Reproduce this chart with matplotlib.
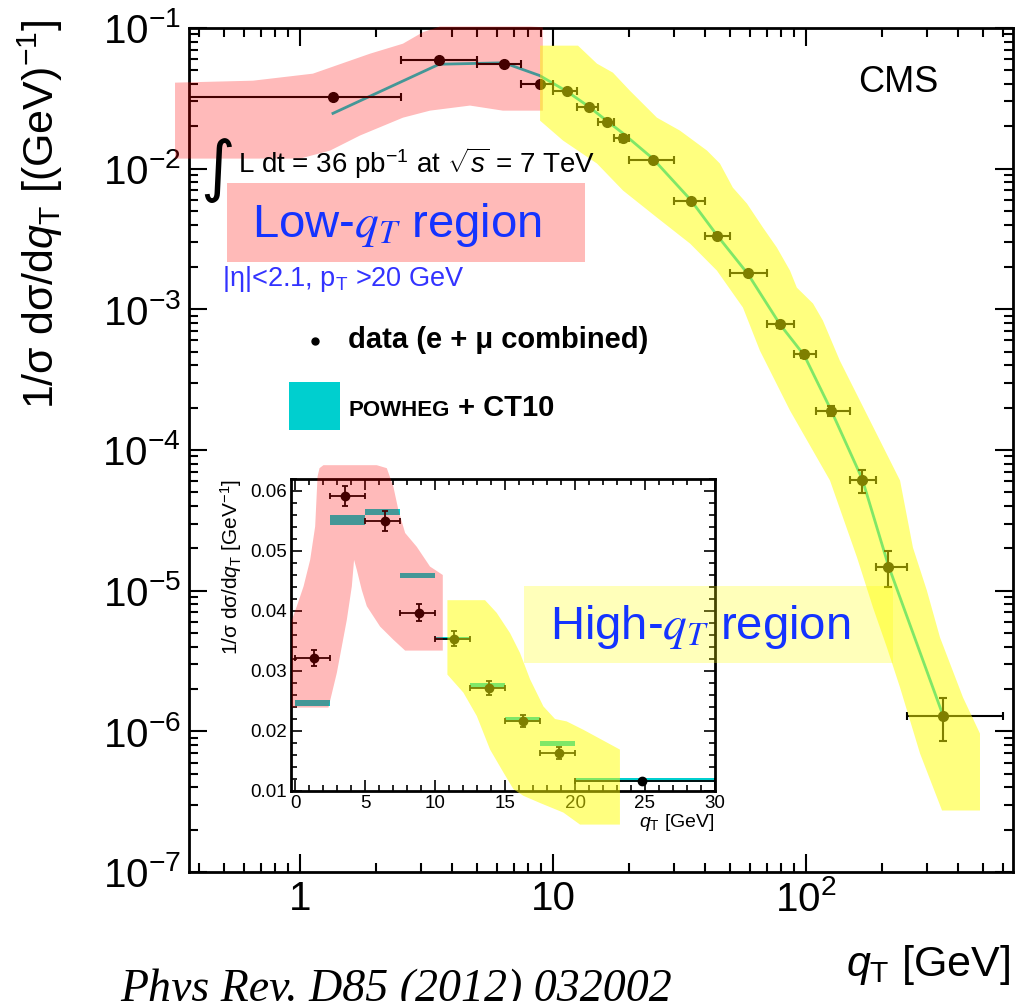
import numpy as np
import matplotlib
matplotlib.use('Agg')
import matplotlib.pyplot as plt
from matplotlib.patches import Polygon, Rectangle
from matplotlib.lines import Line2D
from matplotlib.ticker import LogLocator, FixedLocator, FixedFormatter, MultipleLocator, NullFormatter

plt.rcParams['font.family'] = ['Liberation Sans', 'DejaVu Sans']
plt.rcParams['mathtext.fontset'] = 'custom'
plt.rcParams['mathtext.rm'] = 'Liberation Sans'
plt.rcParams['mathtext.it'] = 'Liberation Sans:italic'
plt.rcParams['mathtext.bf'] = 'Liberation Sans:bold'
plt.rcParams['axes.unicode_minus'] = False

# --- data: normalised q_T spectrum (e + mu combined) and POWHEG + CT10 ---
bin_lo = [0, 2.5, 5, 7.5, 10, 12.5, 15, 17.5, 20, 30, 40, 50, 70, 90, 110, 150, 190, 250]
bin_hi = [2.5, 5, 7.5, 10, 12.5, 15, 17.5, 20, 30, 40, 50, 70, 90, 110, 150, 190, 250, 600]
qt = [1.35, 3.55, 6.4, 8.85, 11.35, 13.85, 16.3, 18.85, 24.8, 35, 44.5, 59, 79, 98.5, 126, 167, 212, 348]
dsig = [0.0322, 0.0592, 0.0550, 0.0397, 0.0354, 0.0272, 0.0216, 0.0164, 0.0116,
        0.00593, 0.00334, 0.00180, 7.8e-4, 4.77e-4, 1.9e-4, 6.07e-5, 1.48e-5, 1.29e-6]
dsig_err = [0.0013, 0.0017, 0.0016, 0.0014, 0.0012, 0.0012, 0.0010, 0.0010, 0.0002,
            1.8e-4, 1.3e-4, 7e-5, 4e-5, 2.8e-5, 1.7e-5, 1.1e-5, 4.2e-6, 4.4e-7]
powheg = [0.0247, 0.0552, 0.0565, 0.0459, 0.0354, 0.0276, 0.0219, 0.0179, 0.0118,
          0.0060, 0.00336, 0.00178, 7.8e-4, 4.7e-4, 1.9e-4, 6.2e-5, 1.5e-5, 1.3e-6]
powheg_err = [0.0004, 0.0007, 0.0004, 0.0003, 0.0002, 0.0003, 0.0003, 0.0003, 0.0002,
              0, 0, 0, 0, 0, 0, 0, 0, 0]

xtick_vals = [1, 10, 100]
xtick_labels = ['1', '10', '$10^{2}$']
inset_xticks = [0, 5, 10, 15, 20, 25, 30]

# highlighter shapes (log10 q_T, log10 value) on the main plot
low_band_lx = [-0.494, -0.186, 0.051, 0.277, 0.407, 0.486, 0.553, 0.909, 0.960, 0.960,
               0.802, 0.672, 0.514, 0.407, 0.237, 0.119, 0.0, -0.494]
low_band_ly = [-1.389, -1.375, -1.325, -1.183, -1.112, -1.030, -0.990, -0.990, -0.995, -1.588,
               -1.588, -1.552, -1.588, -1.638, -1.765, -1.872, -1.929, -1.929]
high_band_lx = [0.949, 1.099, 1.174, 1.237, 1.304, 1.411, 1.502, 1.609, 1.660, 1.711, 1.767,
                1.830, 1.885, 1.937, 1.964, 2.028, 2.067, 2.134, 2.253, 2.372, 2.423, 2.478,
                2.530, 2.621, 2.688, 2.688, 2.538, 2.451, 2.372, 2.320, 2.265, 2.202, 2.095,
                1.937, 1.818, 1.751, 1.648, 1.542, 1.411, 1.277, 1.174, 1.040, 0.949]
high_band_ly = [-1.126, -1.126, -1.254, -1.318, -1.446, -1.638, -1.730, -1.872, -1.964, -2.135,
                -2.249, -2.419, -2.561, -2.725, -2.846, -2.959, -3.080, -3.365, -3.791, -4.217,
                -4.694, -4.999, -5.333, -5.760, -6.016, -6.563, -6.563, -6.158, -5.689, -5.404,
                -5.120, -4.765, -4.217, -3.720, -3.294, -2.988, -2.725, -2.533, -2.348, -2.156,
                -1.964, -1.801, -1.659]
# highlighter shapes on the inset (q_T, value)
low_inset_x = [-0.24, -0.24, 2.38, 2.98, 3.69, 4.05, 4.21, 4.40, 4.76, 5.12, 6.07, 7.02, 7.86,
               10.55, 10.55, 9.64, 8.69, 7.86, 7.38, 7.02, 6.55, 5.83, 2.02, 1.74, 1.60, 1.43,
               1.07, 0.60, 0.12]
low_inset_y = [0.0385, 0.0239, 0.0239, 0.0297, 0.0385, 0.0441, 0.0485, 0.0469, 0.0435, 0.0408,
               0.0374, 0.0352, 0.0334, 0.0334, 0.0460, 0.0474, 0.0507, 0.0530, 0.0568, 0.0607,
               0.0638, 0.0643, 0.0643, 0.0638, 0.0624, 0.0541, 0.0485, 0.0441, 0.0408]
high_inset_x = [10.88, 13.57, 14.40, 15.36, 16.07, 16.79, 17.74, 18.57, 19.40, 20.60, 23.21,
                23.21, 20.36, 19.17, 17.50, 16.31, 15.60, 14.88, 13.93, 12.98, 12.02, 10.88]
high_inset_y = [0.0418, 0.0418, 0.0397, 0.0363, 0.0330, 0.0286, 0.0241, 0.0220, 0.0216, 0.0202,
                0.0169, 0.0044, 0.0044, 0.0064, 0.0080, 0.0092, 0.0103, 0.0131, 0.0169, 0.0225,
                0.0264, 0.0294]

cyan = '#00CFCF'
pink = (1.0, 0.0, 0.0, 0.27)
yellow = (1.0, 1.0, 0.0, 0.5)
blue = '#1433FF'

qt = np.array(qt)
lo = np.array(bin_lo, dtype=float)
hi = np.array(bin_hi, dtype=float)

fig = plt.figure(figsize=(10.17, 10.01), dpi=100)

# ---------------- main log-log panel ----------------
ax = fig.add_axes([0.1858, 0.1289, 0.8102, 0.8432])
ax.set_xscale('log')
ax.set_yscale('log')
ax.set_xlim(0.364, 658)
ax.set_ylim(1e-7, 1e-1)

ax.plot(qt, powheg, color=cyan, lw=2, zorder=2)
ax.errorbar(qt, dsig, xerr=[qt - np.clip(lo, 1e-3, None), hi - qt], yerr=dsig_err,
            fmt='o', color='black', ms=7, elinewidth=1.5, capsize=3, capthick=1.5, zorder=3)

ax.add_patch(Polygon(np.column_stack([10 ** np.array(low_band_lx), 10 ** np.array(low_band_ly)]),
                     closed=True, facecolor=pink, edgecolor='none', clip_on=False, zorder=5))
ax.add_patch(Polygon(np.column_stack([10 ** np.array(high_band_lx), 10 ** np.array(high_band_ly)]),
                     closed=True, facecolor=yellow, edgecolor='none', clip_on=False, zorder=5))

ax.xaxis.set_major_locator(FixedLocator(xtick_vals))
ax.xaxis.set_major_formatter(FixedFormatter(xtick_labels))
ax.xaxis.set_minor_locator(LogLocator(base=10, subs=np.arange(2, 10), numticks=20))
ax.xaxis.set_minor_formatter(NullFormatter())
ax.yaxis.set_major_locator(LogLocator(base=10, numticks=20))
ax.yaxis.set_minor_locator(LogLocator(base=10, subs=np.arange(2, 10), numticks=20))
ax.yaxis.set_minor_formatter(NullFormatter())
ax.tick_params(which='both', direction='in', top=True, right=True, width=1.5)
ax.tick_params(which='major', length=13, labelsize=29, pad=6)
ax.tick_params(which='minor', length=6.5)
[s.set_linewidth(2) for s in ax.spines.values()]

fig.text(40 / 1017, 1 - 20 / 1001, '1/σ dσ/d$q_{\\mathrm{T}}$ [(GeV)$^{-1}$]',
         rotation=90, ha='center', va='top', fontsize=31)
fig.text(1010 / 1017, 1 - 976 / 1001, '$q_{\\mathrm{T}}$ [GeV]', ha='right', va='baseline', fontsize=31)
fig.text(120 / 1017, 0.0, 'Phys Rev. D85 (2012) 032002', family='Liberation Serif',
         style='italic', ha='left', va='baseline', fontsize=33)

fig.text(898 / 1017, 1 - 82 / 1001, 'CMS', ha='center', va='center', fontsize=26, zorder=10)
fig.text(218 / 1017, 1 - 170 / 1001, '∫', family='DejaVu Sans', ha='center', va='center',
         fontsize=48, zorder=10)
fig.text(238 / 1017, 1 - 173 / 1001, 'L dt = 36 pb$^{-1}$ at $\\sqrt{s}$ = 7 TeV',
         ha='left', va='baseline', fontsize=20, zorder=10)

fig.add_artist(Rectangle((227 / 1017, 1 - 262 / 1001), 358 / 1017, 79 / 1001,
                         transform=fig.transFigure, facecolor='#FFBAB8', edgecolor='none', zorder=8))
fig.text(397 / 1017, 1 - 225 / 1001, 'Low-$q_T$ region', math_fontfamily='stix', color=blue,
         ha='center', va='center', fontsize=34, zorder=10)
fig.text(222 / 1017, 1 - 286 / 1001, '|η|<2.1, p$_{\\mathrm{T}}$ >20 GeV', color='#3333FF',
         ha='left', va='baseline', fontsize=19.5, zorder=10)

fig.add_artist(Line2D([315 / 1017], [1 - 341 / 1001], marker='o', ms=5, color='black',
                      transform=fig.transFigure))
fig.text(348 / 1017, 1 - 348 / 1001, 'data (e + μ combined)', weight='bold',
         ha='left', va='baseline', fontsize=21, zorder=10)
fig.add_artist(Rectangle((289 / 1017, 1 - 430 / 1001), 51 / 1017, 48 / 1001,
                         transform=fig.transFigure, facecolor=cyan, edgecolor='none'))
fig.text(349 / 1017, 1 - 416 / 1001, 'POWHEG', weight='bold', ha='left', va='baseline', fontsize=16)
fig.text(458 / 1017, 1 - 416 / 1001, '+ CT10', weight='bold', ha='left', va='baseline', fontsize=21)

# ---------------- inset, linear scale ----------------
ax_in = fig.add_axes([0.2861, 0.2098, 0.4169, 0.3117])
ax_in.set_xlim(-0.3, 30)
ax_in.set_ylim(0.01, 0.062)
ax_in.bar(lo[:9], 2 * np.array(powheg_err[:9]) + 0.0002, width=(hi - lo)[:9],
          bottom=np.array(powheg[:9]) - np.array(powheg_err[:9]) - 0.0001,
          align='edge', color=cyan, zorder=2)
ax_in.errorbar(qt[:9], dsig[:9], xerr=[(qt - lo)[:9], (hi - qt)[:9]], yerr=dsig_err[:9],
               fmt='o', color='black', ms=6, elinewidth=1.3, capsize=2.5, capthick=1.3, zorder=3)
ax_in.add_patch(Polygon(np.column_stack([low_inset_x, low_inset_y]), closed=True,
                        facecolor=pink, edgecolor='none', clip_on=False, zorder=5))
ax_in.add_patch(Polygon(np.column_stack([high_inset_x, high_inset_y]), closed=True,
                        facecolor=yellow, edgecolor='none', clip_on=False, zorder=5))
ax_in.xaxis.set_major_locator(FixedLocator(inset_xticks))
ax_in.xaxis.set_minor_locator(MultipleLocator(1))
ax_in.yaxis.set_major_locator(MultipleLocator(0.01))
ax_in.yaxis.set_minor_locator(MultipleLocator(0.002))
ax_in.tick_params(which='both', direction='in', top=True, right=True, width=1.2)
ax_in.tick_params(which='major', length=8, labelsize=13.5, pad=3)
ax_in.tick_params(which='minor', length=4)
[s.set_linewidth(2) for s in ax_in.spines.values()]
ax_in.set_ylabel('1/σ dσ/d$q_{\\mathrm{T}}$ [GeV$^{-1}$]', fontsize=15, loc='top')
ax_in.yaxis.set_label_coords(-0.11, 1.0)
ax_in.set_xlabel('$q_{\\mathrm{T}}$ [GeV]', fontsize=14, loc='right', labelpad=0)

fig.add_artist(Rectangle((524 / 1017, 1 - 663 / 1001), 369 / 1017, 77 / 1001,
                         transform=fig.transFigure, facecolor=(1.0, 1.0, 0.0, 0.27),
                         edgecolor='none', zorder=8))
fig.text(700 / 1017, 1 - 627 / 1001, 'High-$q_T$ region', math_fontfamily='stix', color=blue,
         ha='center', va='center', fontsize=34, zorder=10)

fig.savefig('out.png', dpi=100)
